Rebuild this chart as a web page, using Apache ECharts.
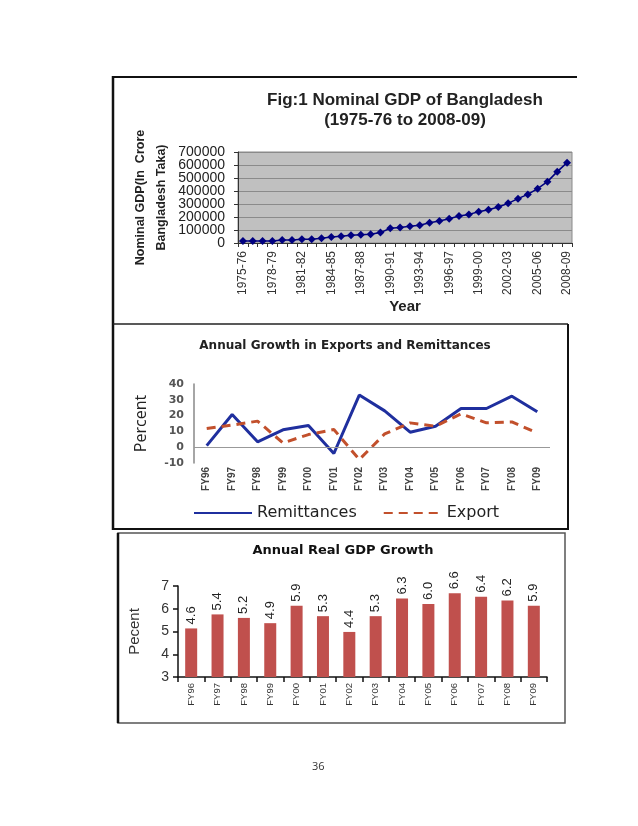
<!DOCTYPE html>
<html><head><meta charset="utf-8">
<script src="https://cdn.jsdelivr.net/npm/echarts@6/dist/echarts.min.js"></script>
<style>html,body{margin:0;padding:0;background:#fff}#c{width:638px;height:826px}</style>
</head><body><div id="c"></div>
<script>
const gdpYears = ['1975-76','1976-77','1977-78','1978-79','1979-80','1980-81','1981-82','1982-83','1983-84','1984-85','1985-86','1986-87','1987-88','1988-89','1989-90','1990-91','1991-92','1992-93','1993-94','1994-95','1995-96','1996-97','1997-98','1998-99','1999-00','2000-01','2001-02','2002-03','2003-04','2004-05','2005-06','2006-07','2007-08','2008-09'];
const gdpValues = [15000,15000,15000,16000,23000,23000,28000,28000,36000,46000,51000,59000,64000,67000,80000,113000,120000,128000,136000,156000,169000,187000,208000,220000,241000,256000,277000,305000,341000,374000,418000,472000,549000,618000];
const fyCategories = ['FY96','FY97','FY98','FY99','FY00','FY01','FY02','FY03','FY04','FY05','FY06','FY07','FY08','FY09'];
const remittances = [1,20.7,3.4,11,13.7,-4,33,23,9.5,13.3,24.5,24.5,32.3,22.4];
const exportGrowth = [11.8,14,16.5,2.7,8,11.2,-7.8,8.4,15.4,13.3,21.1,15.4,16,9];
const realGdpGrowth = [4.6,5.4,5.2,4.9,5.9,5.3,4.4,5.3,6.3,6.0,6.6,6.4,6.2,5.9];

const chart = echarts.init(document.getElementById('c'), null, {renderer:'canvas'});
const arial = "'Liberation Sans', Arial, sans-serif";
const narrow = "'Liberation Sans Narrow', 'Liberation Sans', Arial, sans-serif";
const dv = "'DejaVu Sans', Verdana, sans-serif";
const gdpLabelStyle = {fontSize: 14, fontFamily: arial, color: '#222', margin: 13, showMinLabel: true, showMaxLabel: true,
                       formatter: v => String(v)};

const option = {
  backgroundColor: '#fff',
  animation: false,
  title: [
    {text: 'Fig:1 Nominal GDP of Bangladesh\n(1975-76 to 2008-09)', left: 400, top: 85, textAlign: 'center',
     textStyle: {fontFamily: arial, fontWeight: 'bold', fontSize: 17, lineHeight: 20, color: '#222'}},
    {text: 'Annual Growth in Exports and Remittances', left: 340, top: 335, textAlign: 'center',
     textStyle: {fontFamily: dv, fontWeight: 'bold', fontSize: 12, color: '#222'}},
    {text: 'Annual Real GDP Growth', left: 338, top: 539, textAlign: 'center',
     textStyle: {fontFamily: dv, fontWeight: 'bold', fontSize: 13, color: '#111'}}
  ],
  legend: {
    data: ['Remittances', 'Export'], left: 188, top: 500, itemWidth: 58, itemHeight: 14, itemGap: 26,
    itemStyle: {opacity: 0, borderWidth: 0},
    textStyle: {fontFamily: dv, fontSize: 16, color: '#222'}
  },
  grid: [
    {left: 238, right: 66, top: 152, height: 91, show: true, backgroundColor: '#c0c0c0', borderColor: '#8a8a8a', borderWidth: 1},
    {left: 194, right: 88, top: 384, height: 79},
    {left: 178, right: 91, top: 586, height: 91},
    {left: 238, right: 66, top: 165, height: 78},
    {left: 238, right: 66, top: 152, height: 78}
  ],
  xAxis: [
    {gridIndex: 0, type: 'category', data: gdpYears, boundaryGap: true,
     axisLine: {lineStyle: {color: '#333'}},
     axisTick: {show: true, interval: 0, length: 4, lineStyle: {color: '#333'}},
     axisLabel: {interval: 2, rotate: 90, fontSize: 12, fontFamily: narrow, color: '#333', margin: 8},
     name: 'Year', nameLocation: 'middle', nameGap: 56,
     nameTextStyle: {fontFamily: arial, fontWeight: 'bold', fontSize: 15, color: '#222'}},
    {gridIndex: 1, type: 'category', data: fyCategories, boundaryGap: true,
     axisLine: {show: false, onZero: false}, axisTick: {show: false},
     axisLabel: {rotate: 90, fontSize: 10, fontWeight: 'bold', fontFamily: narrow, color: '#444', margin: 4, interval: 0}},
    {gridIndex: 2, type: 'category', data: fyCategories, boundaryGap: true,
     axisLine: {lineStyle: {color: '#111', width: 1.5}},
     axisTick: {show: true, interval: 0, length: 5, lineStyle: {color: '#111', width: 1.5}},
     axisLabel: {rotate: 90, fontSize: 9.5, fontFamily: arial, color: '#333', margin: 6, interval: 0}},
    {gridIndex: 3, type: 'category', data: gdpYears, show: false},
    {gridIndex: 4, type: 'category', data: gdpYears, show: false}
  ],
  yAxis: [
    {gridIndex: 0, type: 'value', min: 0, max: 700000, interval: 100000,
     axisLine: {show: true, lineStyle: {color: '#333'}},
     axisTick: {show: true, length: 4, lineStyle: {color: '#333'}},
     axisLabel: {show: false},
     splitLine: {lineStyle: {color: '#8a8a8a', width: 1}},
     name: 'Nominal GDP(In  Crore\nBangladesh Taka)', nameLocation: 'middle', nameRotate: 90, nameGap: 66,
     nameTextStyle: {fontFamily: arial, fontWeight: 'bold', fontSize: 12.5, lineHeight: 21, color: '#222'}},
    {gridIndex: 1, type: 'value', min: -10, max: 40, interval: 10,
     axisLine: {show: true, lineStyle: {color: '#888', width: 1.5}},
     axisTick: {show: false}, splitLine: {show: false},
     axisLabel: {fontSize: 11, fontWeight: 'bold', fontFamily: dv, color: '#555', margin: 10},
     name: 'Percent', nameLocation: 'middle', nameRotate: 90, nameGap: 45,
     nameTextStyle: {fontFamily: "'Open Sans', sans-serif", fontSize: 16, color: '#222'}},
    {gridIndex: 2, type: 'value', min: 3, max: 7, interval: 1,
     axisLine: {show: true, lineStyle: {color: '#111', width: 1.5}},
     axisTick: {show: true, length: 5, lineStyle: {color: '#111', width: 1.5}},
     splitLine: {show: false},
     axisLabel: {fontSize: 14, fontFamily: arial, color: '#333', margin: 9},
     name: 'Pecent', nameLocation: 'middle', nameRotate: 90, nameGap: 36,
     nameTextStyle: {fontFamily: arial, fontSize: 15, color: '#333'}},
    {gridIndex: 2, type: 'value', min: 1.83, max: 7.02, show: false},
    {gridIndex: 3, type: 'value', min: 0, max: 600000, interval: 200000,
     axisLine: {show: false}, axisTick: {show: false}, splitLine: {show: false},
     axisLabel: gdpLabelStyle},
    {gridIndex: 4, type: 'value', min: 100000, max: 700000, interval: 200000,
     axisLine: {show: false}, axisTick: {show: false}, splitLine: {show: false},
     axisLabel: gdpLabelStyle}
  ],
  series: [
    {type: 'line', xAxisIndex: 0, yAxisIndex: 0, data: gdpValues, symbol: 'diamond', symbolSize: 8, showAllSymbol: true,
     itemStyle: {color: '#000080'}, lineStyle: {color: '#000080', width: 1.5}},
    {name: 'Remittances', type: 'line', xAxisIndex: 1, yAxisIndex: 1, data: remittances, symbol: 'none',
     lineStyle: {color: '#1f2f9e', width: 3}, itemStyle: {color: '#1f2f9e'},
     markLine: {silent: true, symbol: 'none', label: {show: false}, data: [{yAxis: 0}],
                lineStyle: {color: '#999', type: 'solid', width: 1}}},
    {name: 'Export', type: 'line', xAxisIndex: 1, yAxisIndex: 1, data: exportGrowth, symbol: 'none',
     lineStyle: {color: '#c2502c', width: 3, type: [9, 6]}, itemStyle: {color: '#c2502c'}},
    {type: 'bar', xAxisIndex: 2, yAxisIndex: 3, data: realGdpGrowth, barWidth: 12,
     itemStyle: {color: '#c0504d'},
     label: {show: true, position: 'top', rotate: 90, align: 'left', verticalAlign: 'middle', distance: 4,
             fontSize: 13, fontFamily: arial, color: '#222', formatter: p => p.value.toFixed(1)}}
  ],
  graphic: [
    {type: 'line', shape: {x1: 113, y1: 77, x2: 577, y2: 77}, style: {stroke: '#111', lineWidth: 2}},
    {type: 'line', shape: {x1: 113, y1: 76, x2: 113, y2: 530}, style: {stroke: '#111', lineWidth: 2.5}},
    {type: 'line', shape: {x1: 113, y1: 324, x2: 568, y2: 324}, style: {stroke: '#222', lineWidth: 1.5}},
    {type: 'line', shape: {x1: 568, y1: 324, x2: 568, y2: 530}, style: {stroke: '#111', lineWidth: 2}},
    {type: 'line', shape: {x1: 113, y1: 529, x2: 568, y2: 529}, style: {stroke: '#111', lineWidth: 2}},
    {type: 'rect', shape: {x: 118, y: 533, width: 447, height: 190}, style: {fill: 'none', stroke: '#555', lineWidth: 1.5}},
    {type: 'line', shape: {x1: 118, y1: 533, x2: 118, y2: 723}, style: {stroke: '#111', lineWidth: 2.5}},
    {type: 'text', left: 312, top: 761, style: {text: '36', font: "11px 'Open Sans', sans-serif", fill: '#333'}}
  ]
};
chart.setOption(option);
</script></body></html>
